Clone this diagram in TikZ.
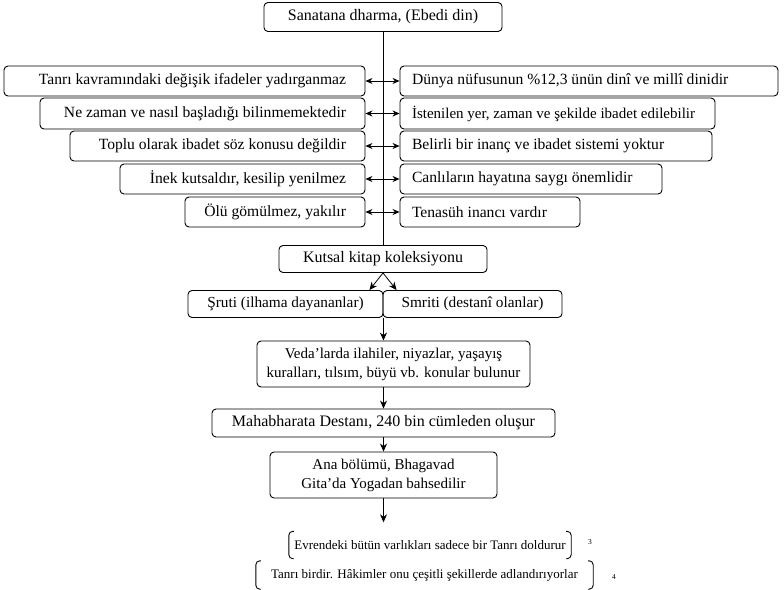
\documentclass[tikz,border=0pt]{standalone}
\usepackage{fontspec}
\setmainfont{Liberation Serif}
\usetikzlibrary{arrows.meta}
\newcommand{\RT}[2]{\makebox[#1pt][r]{#2\hspace{19pt}}}
\newcommand{\LT}[2]{\makebox[#1pt][l]{\hspace{12pt}#2}}
\begin{document}
\begin{tikzpicture}[x=1pt,y=-1pt,
  fs/.style={font=\fontsize{#1}{19}\selectfont},
  box/.style={draw, line width=0.9pt, rounded corners=4pt, inner sep=0pt, fs=15.6},
  cbox/.style={box, align=center},
  dbl/.style={line width=0.8pt, {Stealth[length=7pt,width=6pt]}-{Stealth[length=7pt,width=6pt]}},
  arr/.style={line width=0.8pt, -{Stealth[length=8pt,width=7pt]}},
  ln/.style={line width=0.8pt},
  txt/.style={inner sep=0pt, fs=13},
  brk/.style={line width=0.9pt, rounded corners=4pt},
  num/.style={inner sep=0pt, font=\fontsize{7.5}{8}\selectfont}
]
\useasboundingbox (0,0) rectangle (784,589);

% top
\node[cbox, fs=16, minimum width=238pt, minimum height=29pt] (top) at (383,17) {Sanatana dharma, (Ebedi din)};

% left boxes
\node[box, minimum height=30pt] (l1) at (184.5,81) {\RT{361}{Tanrı kavramındaki değişik ifadeler yadırganmaz}};
\node[box, minimum height=31pt] (l2) at (202.5,113.5) {\RT{325}{Ne zaman ve nasıl başladığı bilinmemektedir}};
\node[box, minimum height=30pt] (l3) at (217.5,146) {\RT{295}{Toplu olarak ibadet söz konusu değildir}};
\node[box, minimum height=30pt] (l4) at (242.5,179) {\RT{245}{İnek kutsaldır, kesilip yenilmez}};
\node[box, minimum height=30pt] (l5) at (275,212) {\RT{180}{Ölü gömülmez, yakılır}};

% right boxes
\node[box, minimum height=30pt] (r1) at (589,81) {\LT{378}{Dünya nüfusunun \%12,3 ünün dinî ve millî dinidir}};
\node[box, fs=15, minimum height=31pt] (r2) at (557.5,113.5) {\LT{315}{İstenilen yer, zaman ve şekilde ibadet edilebilir}};
\node[box, minimum height=30pt] (r3) at (556,146) {\LT{312}{Belirli bir inanç ve ibadet sistemi yoktur}};
\node[box, minimum height=30pt] (r4) at (531,179) {\LT{262}{Canlıların hayatına saygı önemlidir}};
\node[box, minimum height=30pt] (r5) at (490,212) {\LT{180}{Tenasüh inancı vardır}};

% kutsal
\node[cbox, fs=16, minimum width=208pt, minimum height=27pt] (kut) at (383,259) {Kutsal kitap koleksiyonu};

% sruti / smriti
\node[cbox, fs=15.3, minimum width=195pt, minimum height=27pt] (sru) at (285.5,304) {Şruti (ilhama dayananlar)};
\node[cbox, fs=15.3, minimum width=179pt, minimum height=27pt] (smr) at (472.5,304) {Smriti (destanî olanlar)};

% veda
\node[cbox, fs=15, minimum width=273pt, minimum height=46pt] (veda) at (393.5,364) {Veda'larda ilahiler, niyazlar, yaşayış\\kuralları, tılsım, büyü vb. konular bulunur};

% mahabharata
\node[cbox, fs=16, minimum width=343pt, minimum height=28pt] (maha) at (383.5,423) {Mahabharata Destanı, 240 bin cümleden oluşur};

% ana
\node[cbox, fs=15, minimum width=227pt, minimum height=46pt] (ana) at (383.5,475) {Ana bölümü, Bhagavad\\Gita'da Yogadan bahsedilir};

% bracket lines
\node[txt, minimum width=282pt, minimum height=27pt] (ev) at (430,545) {Evrendeki bütün varlıkları sadece bir Tanrı doldurur};
\node[txt, minimum width=337pt, minimum height=28pt] (tb) at (424.5,575) {Tanrı birdir. Hâkimler onu çeşitli şekillerde adlandırıyorlar};
\node[num] (n3) at (590,542) {3};
\node[num] (n4) at (614,577) {4};

\draw[brk] ([xshift=5pt]ev.north west) -- (ev.north west) -- (ev.south west) -- ([xshift=5pt]ev.south west);
\draw[brk] ([xshift=-5pt]ev.north east) -- (ev.north east) -- (ev.south east) -- ([xshift=-5pt]ev.south east);
\draw[brk] ([xshift=5pt]tb.north west) -- (tb.north west) -- (tb.south west) -- ([xshift=5pt]tb.south west);
\draw[brk] ([xshift=-5pt]tb.north east) -- (tb.north east) -- (tb.south east) -- ([xshift=-5pt]tb.south east);

% connectors
\draw[ln] (top.south) -- (kut.north);
\foreach \i in {1,...,5} { \draw[dbl] (l\i.east) -- (r\i.west); }
\draw[arr] (kut.south) -- ([xshift=-14pt]sru.north east);
\draw[arr] (kut.south) -- ([xshift=14pt]smr.north west);
\draw[arr] (sru.south east) -- (sru.south east |- veda.north);
\draw[arr] (maha.north |- veda.south) -- (maha.north);
\draw[arr] (maha.south) -- (ana.north);
\draw[arr, shorten >=9pt] (ana.south) -- (ana.south |- ev.north);
\end{tikzpicture}
\end{document}
